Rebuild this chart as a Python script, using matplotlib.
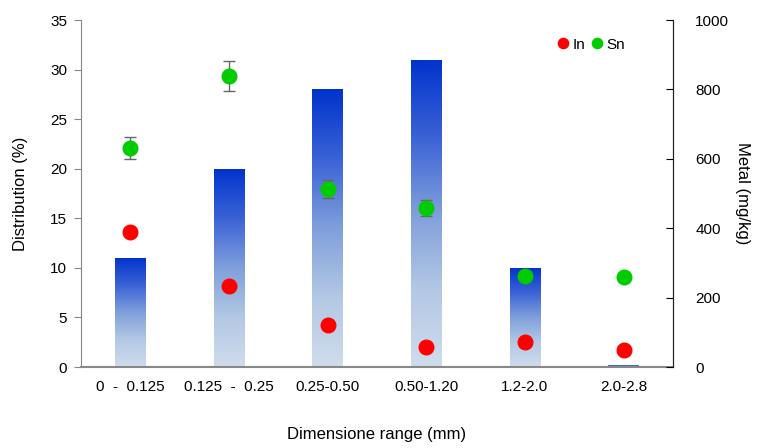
import numpy as np
import matplotlib.pyplot as plt
from matplotlib.patches import Rectangle
from matplotlib.colors import LinearSegmentedColormap

plt.rcParams['font.family'] = ['Liberation Sans', 'DejaVu Sans']

# Data
categories = ['0  -  0.125', '0.125  -  0.25', '0.25-0.50', '0.50-1.20', '1.2-2.0', '2.0-2.8']
distribution = [11, 20, 28, 31, 10, 0.2]
in_metal = [390, 234, 120, 57, 73, 49]
in_err = [12, 0, 0, 0, 0, 0]
sn_metal = [631, 838, 513, 458, 263, 259]
sn_err = [32, 43, 26, 24, 0, 0]

fig = plt.figure(figsize=(7.57, 4.48), dpi=100)
ax1 = fig.add_axes([81 / 757, 1 - 367 / 448, 592 / 757, 347 / 448])
ax2 = ax1.twinx()

x = np.arange(len(categories))
bar_w = 0.31

# gradient-filled bars (dark blue at top -> pale at bottom)
cmap = LinearSegmentedColormap.from_list('bluegrad', ['#cfdcec', '#b3c8e4', '#7f9fdb', '#3a62d6', '#0033cc'])
grad = np.linspace(0, 1, 256).reshape(-1, 1)
bars = ax1.bar(x, distribution, width=bar_w, color='none', edgecolor='none')
for b in bars:
    x0, w, h = b.get_x(), b.get_width(), b.get_height()
    im = ax1.imshow(grad, cmap=cmap, origin='lower', aspect='auto',
                    extent=[x0, x0 + w, 0, h], zorder=2)
    im.set_clip_path(Rectangle((x0, 0), w, h, transform=ax1.transData))

ax1.set_xlim(-0.5, len(categories) - 0.5)
ax1.set_ylim(0, 35)
ax1.set_yticks(range(0, 36, 5))
ax1.set_xticks(x)
ax1.set_xticklabels(categories, fontsize=11)
ax1.tick_params(axis='x', length=0, pad=9)
ax1.tick_params(axis='y', direction='out', length=5, color='#888888', labelsize=11, pad=5)
ax1.set_ylabel('Distribution (%)', fontsize=12, labelpad=16)
ax1.set_xlabel('Dimensione range (mm)', fontsize=12, labelpad=24)

# metal content points
ax2.errorbar(x, in_metal, yerr=in_err, fmt='o', color='#ff0000', ms=10.5,
             ecolor='#666666', elinewidth=1, capsize=4, label='In', zorder=5)
ax2.errorbar(x, sn_metal, yerr=sn_err, fmt='o', color='#00cc00', ms=10.5,
             ecolor='#666666', elinewidth=1, capsize=4, label='Sn', zorder=5)
ax2.set_ylim(0, 1000)
ax2.set_yticks(range(0, 1001, 200))
ax2.tick_params(axis='y', direction='in', length=5, labelsize=11, pad=16)
ax2.set_ylabel('Metal (mg/kg)', fontsize=12, rotation=270, labelpad=15)

for ax in (ax1, ax2):
    ax.spines['top'].set_visible(False)
ax1.spines['left'].set_color('#888888')
ax1.spines['bottom'].set_color('#888888')
ax1.spines['bottom'].set_linewidth(1.5)
ax2.spines['left'].set_visible(False)
ax2.spines['bottom'].set_visible(False)
ax2.spines['right'].set_color('#222222')

handles, labels = ax2.get_legend_handles_labels()
handles = [h[0] for h in handles]
ax2.legend(handles, labels, loc='center right', bbox_to_anchor=(0.942, 0.929), ncol=2,
           frameon=False, fontsize=11, markerscale=0.7, handletextpad=0.0,
           columnspacing=0.2, handlelength=1.2)

fig.savefig('out.png', dpi=100)
